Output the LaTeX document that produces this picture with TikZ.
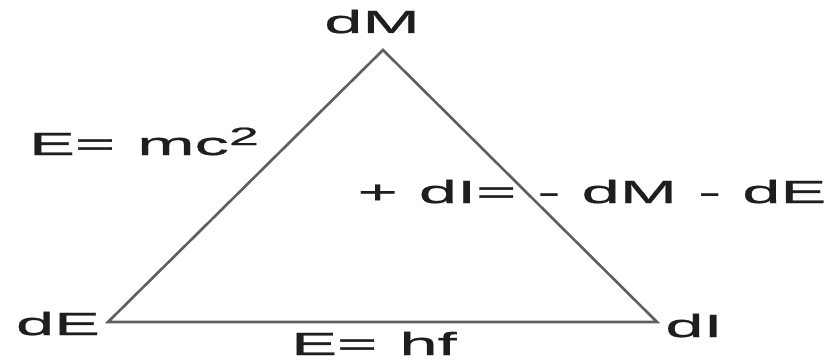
\documentclass[tikz,border=0pt]{standalone}
\usepackage{fontspec}
\newfontfamily\widefont[FakeStretch=2.15,FakeBold=0.8]{Liberation Sans}
\definecolor{edgegray}{RGB}{95,95,95}
\definecolor{textdark}{RGB}{30,30,30}
\tikzset{
  lbl/.style={inner sep=0pt, anchor=base, text=textdark, font=\widefont\fontsize{32}{38}\selectfont},
  edge/.style={draw=edgegray, line width=2.6pt, line join=miter}
}
\begin{document}
\begin{tikzpicture}[x=1pt,y=-1pt]
\useasboundingbox[fill=white] (0,0) rectangle (836,361);
\coordinate (M) at (383,50);
\coordinate (E) at (108,322);
\coordinate (I) at (657,322);
\draw[edge] (M) -- (E) -- (I) -- cycle;
\node[lbl] (lM) at (372,33) {dM};
\node[lbl] (lE) at (58,335) {dE};
\node[lbl] (lI) at (694,337) {dI};
\node[lbl] (lmc) at (144,155) {E=\hspace{3pt} mc\raisebox{10pt}{\fontsize{25}{25}\selectfont 2}};
\node[lbl] (lhf) at (374,355) {E=\hspace{3pt} hf};
\node[lbl] (leq) at (592,203) {+\hspace{2pt} dI=\hspace{2pt} -\hspace{2pt} dM\hspace{2pt} -\hspace{2pt} dE};
\end{tikzpicture}
\end{document}
